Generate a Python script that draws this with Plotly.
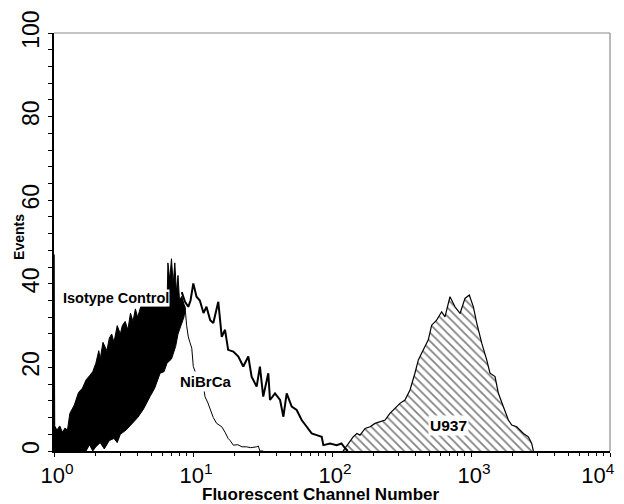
import plotly.graph_objects as go

# ---------------- data ----------------
# Isotype Control: dense black histogram drawn as band (upper / lower envelope)
iso_top_x = [1.0, 1.0, 1.004, 1.008, 1.012, 1.05, 1.1, 1.15, 1.2, 1.25, 1.3, 1.4, 1.5, 1.6, 1.7,
             1.8, 1.9, 2.0, 2.1, 2.15, 2.25, 2.4, 2.5, 2.6, 2.7, 2.85, 3.0, 3.1, 3.25, 3.4,
             3.55, 3.7, 3.85, 4.0, 4.2, 4.5, 6.5, 6.6, 6.8, 7.0, 7.2, 7.4, 7.6, 7.8, 8.0,
             8.3, 8.6, 8.8]
iso_top_y = [0, 47, 5, 32, 6, 5, 6, 4.5, 5.5, 5, 9, 11, 14, 15, 17,
             18, 19, 21, 24, 22, 26, 24, 27, 28, 26, 30, 28, 30, 31, 29,
             33, 31, 34, 32, 34.5, 34.5, 34.5, 45, 41, 46, 40, 45, 38, 42, 36,
             37, 35, 34]
iso_low_x = [1.0, 1.7, 1.8, 1.9, 2.0, 2.15, 2.3, 2.5, 2.7, 2.85, 3.0, 3.3, 3.7, 4.0, 4.4,
             4.9, 5.3, 5.8, 6.2, 6.5, 7.0, 7.5, 7.8, 8.2, 8.6, 8.8]
iso_low_y = [0, 0, 1.5, 0, 1, 2, 0.5, 2.5, 3, 2, 4, 5, 6.7, 8, 10,
             13, 15, 18.6, 19, 21, 22, 25, 28, 30, 32, 34]

# thin right-hand tail
thin_x = [8.6, 8.76, 9.0, 9.25, 9.5, 9.8, 10.05, 10.5, 11.0, 11.5, 11.9, 12.2, 12.8, 13.3,
          14.0, 14.8, 15.5, 16.1, 17.0, 17.9, 18.5, 19.5, 21, 22.5, 24.3, 26, 28.7, 29.5,
          30.3, 32]
thin_y = [35, 34.5, 30, 27.3, 26, 24.6, 20.2, 18.5, 17.5, 16.5, 15.4, 13, 11.5, 9.8,
          8, 6.6, 6.2, 5.8, 4.5, 3, 2.5, 1.4, 1.5, 1, 1, 0.8, 1, 1.2,
          0, 0]

# thick line
thick_x = [8.3, 8.76, 9.25, 9.6, 10.05, 10.6, 11.2, 11.9, 12.5, 13.3, 14.0, 15.2, 16.1, 17.0,
           17.9, 19.5, 21.2, 23, 25, 26.4, 28.7, 30.3, 32, 34.8, 35.8, 38.9, 42.3, 44.7,
           47.2, 51.3, 55.7, 60.5, 65.8, 71.4, 77.6, 84.3, 86.7, 96.8, 108, 117, 124, 130]
thick_y = [38, 35.7, 34.5, 36, 40.1, 36.9, 36, 33, 34.5, 31.3, 30.6, 35.7, 27.3, 29,
           24.2, 23.8, 22.6, 20.2, 22.6, 17.8, 15.4, 20.2, 13, 18.6, 12.2, 13.8, 12.2, 8.2,
           13.8, 10.6, 9.8, 7.4, 5.8, 4.2, 3.8, 3.4, 1.4, 1.8, 1.4, 1.8, 0.7, 0]

# U937 hatched histogram
u937_x = [120, 130, 142, 151, 159, 173, 188, 204, 221, 241, 261, 284, 308, 335, 364, 395,
          418, 454, 493, 521, 566, 615, 650, 706, 767, 834, 905, 972, 1040, 1100, 1195,
          1297, 1370, 1489, 1574, 1710, 1857, 1963, 2133, 2381, 2586, 2734, 2810]
u937_y = [0, 1.5, 3.4, 4.2, 3.8, 5.4, 5.8, 6.6, 7, 7.4, 9, 10.2, 11.4, 12.2, 14.6, 18.6,
          21.8, 24.2, 26.6, 30.1, 31.3, 33.3, 32.1, 36.9, 34.5, 32.9, 36.5, 37.3, 34.5, 30.6, 25.8,
          21.8, 18.6, 17.8, 13.8, 10.6, 7.4, 6.2, 5.8, 4.2, 3.4, 1.8, 0]

x_tick_vals = [1, 10, 100, 1000, 10000]
x_tick_text = ["10<sup>0</sup>", "10<sup>1</sup>", "10<sup>2</sup>", "10<sup>3</sup>",
               "10<sup>4</sup>" + "\u00a0" * 5]
y_tick_vals = [0, 20, 40, 60, 80, 100]

FONT = "Liberation Sans, Arial, Helvetica, sans-serif"

fig = go.Figure()

# Isotype control black band (closed polygon)
fig.add_trace(go.Scatter(
    x=iso_top_x + iso_low_x[::-1], y=iso_top_y + iso_low_y[::-1],
    mode="lines", fill="toself", fillcolor="black",
    line=dict(color="black", width=1), hoverinfo="skip", showlegend=False))

fig.add_trace(go.Scatter(x=thin_x, y=thin_y, mode="lines",
                         line=dict(color="black", width=1), showlegend=False))

fig.add_trace(go.Scatter(x=u937_x, y=u937_y, mode="lines", fill="tozeroy",
                         fillcolor="white",
                         fillpattern=dict(shape="\\", size=6, solidity=0.28,
                                          fgcolor="black", bgcolor="white"),
                         line=dict(color="black", width=1.2), showlegend=False))

fig.add_trace(go.Scatter(x=thick_x, y=thick_y, mode="lines",
                         line=dict(color="black", width=2), showlegend=False))

minor_x = [m * d for d in [1, 10, 100, 1000] for m in range(2, 10)]

# page body has an 8px margin, so the figure is placed 8px in from the corner
fig.update_layout(
    width=608, height=496,
    margin=dict(l=46, r=6, t=25, b=53),
    paper_bgcolor="white", plot_bgcolor="white",
    font=dict(family=FONT, color="black"),
    xaxis=dict(type="log", range=[0, 4], tickmode="array",
               tickvals=x_tick_vals, ticktext=x_tick_text,
               tickfont=dict(size=22, family=FONT),
               ticks="outside", ticklen=4, tickcolor="black",
               showline=True, linecolor="black", linewidth=1.5,
               showgrid=False, zeroline=False, automargin=False,
               ticklabeloverflow="allow", ticklabelshift=3,
               minor=dict(tickmode="array", tickvals=minor_x, ticks="outside",
                          ticklen=3, tickcolor="black", showgrid=False)),
    yaxis=dict(range=[0, 100], tickmode="array", tickvals=y_tick_vals,
               tickangle=-90, tickfont=dict(size=23, family=FONT),
               ticks="outside", ticklen=4, tickcolor="black",
               showline=True, linecolor="black", linewidth=1.5,
               showgrid=False, zeroline=False, automargin=False,
               ticklabeloverflow="allow",
               minor=dict(dtick=4, ticks="outside", ticklen=4,
                          tickcolor="black", showgrid=False)),
    shapes=[
        dict(type="line", xref="paper", yref="paper", x0=0, x1=1, y0=1, y1=1,
             line=dict(color="#8a8a8a", width=1.2), layer="below"),
        dict(type="line", xref="paper", yref="paper", x0=1, x1=1, y0=0, y1=1,
             line=dict(color="#8a8a8a", width=1.2), layer="below"),
    ],
    annotations=[
        dict(x=0.48, y=-0.103, xref="paper", yref="paper",
             text="<b>Fluorescent Channel Number</b>", showarrow=False,
             xanchor="center", yanchor="middle",
             font=dict(size=17, family=FONT, color="black")),
        dict(x=-0.063, y=0.512, xref="paper", yref="paper",
             text="<b>Events</b>", showarrow=False, textangle=-90,
             xanchor="center", yanchor="middle",
             font=dict(size=14, family=FONT, color="black")),
        dict(x=0.446, y=34.5, xref="x", yref="y", text="<b>Isotype Control</b>",
             showarrow=False, bgcolor="white", borderpad=0, yanchor="bottom",
             font=dict(size=14.5, family=FONT, color="black")),
        dict(x=1.094, y=16.6, xref="x", yref="y", text="<b>NiBrCa</b>",
             showarrow=False, bgcolor="white", borderpad=1,
             font=dict(size=15, family=FONT, color="black")),
        dict(x=2.835, y=6.0, xref="x", yref="y", text="<b>U937</b>",
             showarrow=False, bgcolor="white", borderpad=1,
             font=dict(size=15.5, family=FONT, color="black")),
    ],
)

fig.write_html("out.html")
